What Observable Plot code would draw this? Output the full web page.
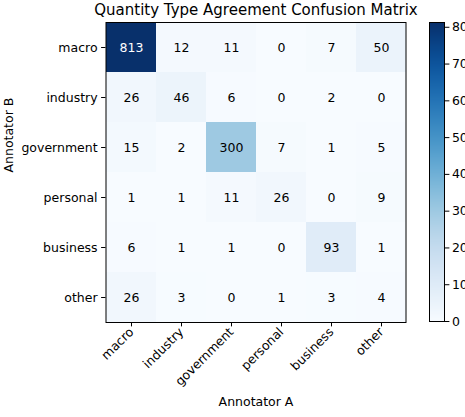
<!DOCTYPE html>
<html>
<head>
<meta charset="utf-8">
<script src="https://cdn.jsdelivr.net/npm/d3@7"></script>
<script src="https://cdn.jsdelivr.net/npm/@observablehq/plot@0.6"></script>
<style>
  html, body { margin: 0; padding: 0; background: white; overflow: hidden; }
  #wrap { position: relative; width: 465px; height: 417px; }
  #wrap svg { position: absolute; left: 0; top: 0; }
</style>
</head>
<body>
<div id="wrap"></div>
<script>
const categories = ["macro", "industry", "government", "personal", "business", "other"];
// rows: Annotator B, columns: Annotator A
const macroRow      = [813, 12, 11, 0, 7, 50];
const industryRow   = [26, 46, 6, 0, 2, 0];
const governmentRow = [15, 2, 300, 7, 1, 5];
const personalRow   = [1, 1, 11, 26, 0, 9];
const businessRow   = [6, 1, 1, 0, 93, 1];
const otherRow      = [26, 3, 0, 1, 3, 4];
const colorbarTicks = [0, 100, 200, 300, 400, 500, 600, 700, 800];
const title = "Quantity Type Agreement Confusion Matrix";
const xLabel = "Annotator A";
const yLabel = "Annotator B";

const rows = [macroRow, industryRow, governmentRow, personalRow, businessRow, otherRow];
const data = [];
rows.forEach((row, i) => row.forEach((v, j) => data.push({b: categories[i], a: categories[j], value: v})));
const vmax = d3.max(data, d => d.value);
const thresh = vmax / 2;

const font = {fontFamily: "DejaVu Sans", fontSize: "12.5px", color: "black", background: "transparent", overflow: "visible"};

const main = Plot.plot({
  width: 465, height: 417,
  marginLeft: 105.5, marginRight: 59.5, marginTop: 22, marginBottom: 95,
  style: {...font, background: "white"},
  x: {domain: categories, padding: 0, label: null},
  y: {domain: categories, padding: 0, label: null},
  color: {type: "linear", scheme: "blues", domain: [0, vmax]},
  marks: [
    Plot.cell(data, {x: "a", y: "b", fill: "value", inset: 0, shapeRendering: "crispEdges"}),
    Plot.text(data.filter(d => d.value > thresh), {x: "a", y: "b", text: "value", fill: "white"}),
    Plot.text(data.filter(d => d.value <= thresh), {x: "a", y: "b", text: "value", fill: "black"}),
    Plot.frame({stroke: "black", strokeWidth: 1}),
    Plot.axisX({tickRotate: -45, tickSize: 4.4, tickPadding: 3, label: null}),
    Plot.axisY({tickSize: 4.4, tickPadding: 4, label: null}),
    Plot.text([title], {frameAnchor: "top", text: d => d, dy: -12, fontSize: 15, lineAnchor: "middle"}),
    Plot.text([xLabel], {frameAnchor: "bottom", text: d => d, dy: 79, lineAnchor: "middle"}),
    Plot.text([yLabel], {frameAnchor: "left", text: d => d, dx: -97, rotate: -90, lineAnchor: "middle"})
  ]
});

const bar = Plot.plot({
  width: 465, height: 417,
  marginLeft: 429, marginRight: 21, marginTop: 22, marginBottom: 96,
  style: font,
  x: {domain: [0, 1], axis: null},
  y: {domain: [0, vmax], label: null},
  color: {type: "linear", scheme: "blues", domain: [0, vmax]},
  marks: [
    Plot.raster({fill: (x, y) => y, x1: 0, x2: 1, y1: 0, y2: vmax, width: 1, height: 300}),
    Plot.frame({stroke: "black", strokeWidth: 1}),
    Plot.axisY({anchor: "right", ticks: colorbarTicks, tickSize: 4.4, tickPadding: 3, label: null})
  ]
});

const wrap = document.getElementById("wrap");
wrap.appendChild(main);
wrap.appendChild(bar);
</script>
</body>
</html>
